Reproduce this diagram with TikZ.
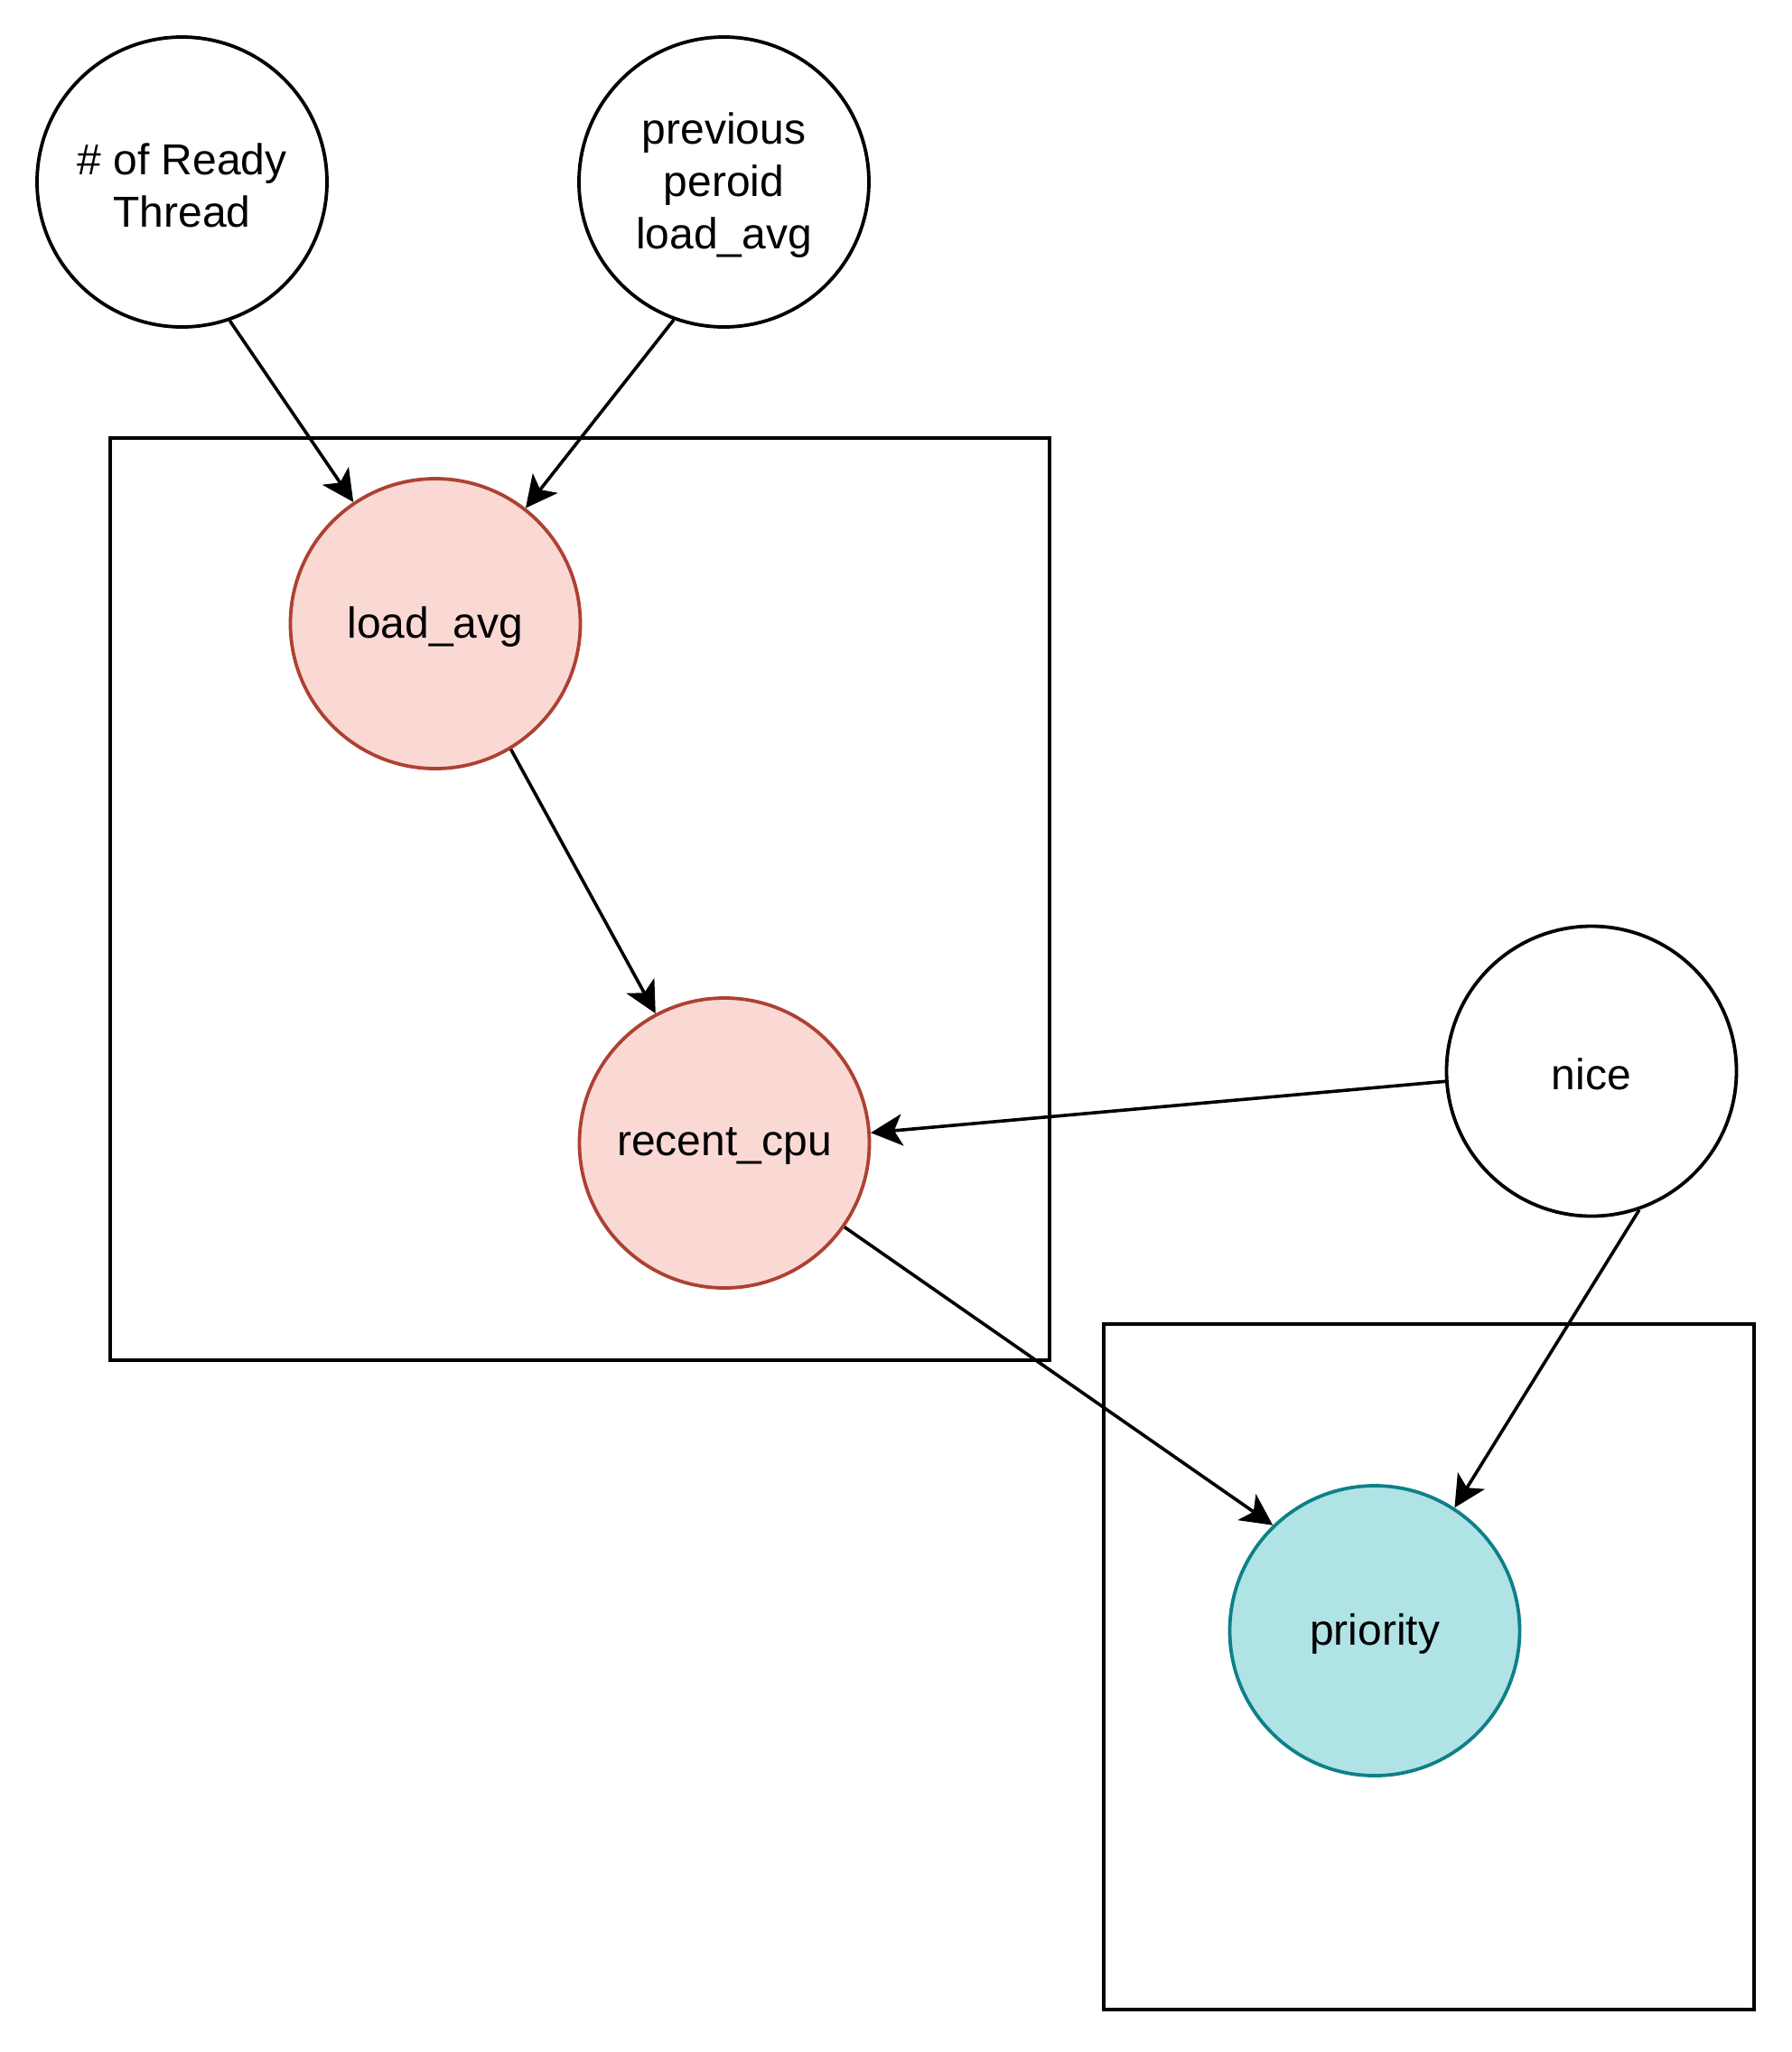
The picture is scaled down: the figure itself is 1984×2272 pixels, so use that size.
\documentclass[tikz,border=0pt]{standalone}
\usepackage{fontspec}
\setmainfont{Liberation Sans}
\usetikzlibrary{arrows.meta}
\definecolor{pinkfill}{HTML}{FAD9D5}
\definecolor{pinkline}{HTML}{AE4132}
\definecolor{tealfill}{HTML}{B0E3E6}
\definecolor{tealline}{HTML}{0E8088}
\begin{document}
\begin{tikzpicture}[x=0.5pt,y=-0.5pt,
  var/.style={circle,draw=black,line width=1.9pt,minimum size=160.5pt,inner sep=0pt},
  lbl/.style={align=center,yshift=-1.8pt,font=\fontsize{24}{28.8}\selectfont},
  pinkvar/.style={var,draw=pinkline,fill=pinkfill},
  tealvar/.style={var,draw=tealline,fill=tealfill},
  plate/.style={draw=black,line width=1.9pt},
  conn/.style={draw=black,line width=1.8pt,-{Stealth[length=17.5pt,width=17.5pt,inset=4.5pt]}}]
\useasboundingbox[fill=white] (0,0) rectangle (1984,2272);
\draw[plate] (122,485) rectangle (1162,1506);
\draw[plate] (1222,1466) rectangle (1942,2225);
\node[var,label={[lbl]center:{\# of Ready\\Thread}}] (ready) at (201.5,201.5) {};
\node[var,label={[lbl]center:{previous\\peroid\\load\_avg}}] (prev) at (801.5,201.5) {};
\node[pinkvar,label={[lbl]center:{load\_avg}}] (load) at (482,690.5) {};
\node[pinkvar,label={[lbl]center:{recent\_cpu}}] (recent) at (802,1265.5) {};
\node[var,label={[lbl]center:{nice}}] (nice) at (1762,1186) {};
\node[tealvar,label={[lbl]center:{priority}}] (prio) at (1522,1805.5) {};
\draw[conn] (ready.-71.7) -- (load.124.6);
\draw[conn] (prev.-110) -- (load.52.3);
\draw[conn] (load.-59.2) -- (recent.118.4);
\draw[conn] (nice.184.5) -- (recent.4.8);
\draw[conn] (recent.-35.3) -- (prio.134.7);
\draw[conn] (nice.-71.5) -- (prio.57.9);
\end{tikzpicture}
\end{document}
